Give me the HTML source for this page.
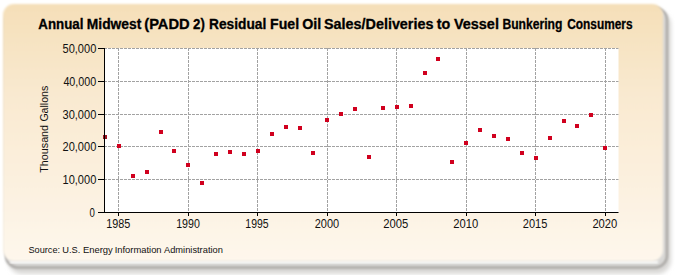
<!DOCTYPE html><html><head><meta charset="utf-8"><style>
html,body{margin:0;padding:0;background:#fff;width:675px;height:275px;overflow:hidden}
svg{display:block}
text{font-family:"Liberation Sans",sans-serif}
</style></head><body>
<svg width="675" height="275" viewBox="0 0 675 275">
<defs>
<linearGradient id="bg" x1="0" y1="0" x2="0" y2="1">
<stop offset="0" stop-color="#F5DFB8"/>
<stop offset="0.35" stop-color="#F9E9D0"/>
<stop offset="1" stop-color="#FEF7EC"/>
</linearGradient>
<filter id="blur" x="-10%" y="-10%" width="120%" height="120%"><feGaussianBlur stdDeviation="2.2"/></filter>
<filter id="blur1" x="-10%" y="-10%" width="120%" height="120%"><feGaussianBlur stdDeviation="1.3"/></filter>
<filter id="blur2" x="-10%" y="-10%" width="120%" height="120%"><feGaussianBlur stdDeviation="0.9"/></filter>
</defs>
<rect x="8" y="11" width="663" height="263" rx="14" fill="#d9d8d6" filter="url(#blur)"/>
<rect x="6" y="8" width="661" height="259.5" rx="12" fill="none" stroke="#aaa8a5" stroke-width="2.5" filter="url(#blur1)"/>
<rect x="10" y="261" width="648" height="2.2" fill="#fff" filter="url(#blur2)"/>
<rect x="3" y="4" width="660" height="257" rx="11" fill="url(#bg)" filter="url(#blur2)"/>

<rect x="104" y="48" width="514.5" height="164" fill="#fff"/>
<line x1="104" y1="48.5" x2="618.5" y2="48.5" stroke="#a2a2a2" stroke-width="1" stroke-dasharray="3,1"/>
<line x1="104" y1="81.5" x2="618.5" y2="81.5" stroke="#a2a2a2" stroke-width="1" stroke-dasharray="3,1"/>
<line x1="104" y1="114.5" x2="618.5" y2="114.5" stroke="#a2a2a2" stroke-width="1" stroke-dasharray="3,1"/>
<line x1="104" y1="146.5" x2="618.5" y2="146.5" stroke="#a2a2a2" stroke-width="1" stroke-dasharray="3,1"/>
<line x1="104" y1="179.5" x2="618.5" y2="179.5" stroke="#a2a2a2" stroke-width="1" stroke-dasharray="3,1"/>
<line x1="118.5" y1="48" x2="118.5" y2="212" stroke="#a2a2a2" stroke-width="1" stroke-dasharray="3,1"/>
<line x1="188.5" y1="48" x2="188.5" y2="212" stroke="#a2a2a2" stroke-width="1" stroke-dasharray="3,1"/>
<line x1="257.5" y1="48" x2="257.5" y2="212" stroke="#a2a2a2" stroke-width="1" stroke-dasharray="3,1"/>
<line x1="327.5" y1="48" x2="327.5" y2="212" stroke="#a2a2a2" stroke-width="1" stroke-dasharray="3,1"/>
<line x1="396.5" y1="48" x2="396.5" y2="212" stroke="#a2a2a2" stroke-width="1" stroke-dasharray="3,1"/>
<line x1="466.5" y1="48" x2="466.5" y2="212" stroke="#a2a2a2" stroke-width="1" stroke-dasharray="3,1"/>
<line x1="535.5" y1="48" x2="535.5" y2="212" stroke="#a2a2a2" stroke-width="1" stroke-dasharray="3,1"/>
<line x1="605.5" y1="48" x2="605.5" y2="212" stroke="#a2a2a2" stroke-width="1" stroke-dasharray="3,1"/>
<rect x="103" y="135" width="4" height="4" fill="#9c1420"/>
<rect x="117" y="144" width="4" height="4" fill="#D0001E"/>
<rect x="131" y="174" width="4" height="4" fill="#D0001E"/>
<rect x="145" y="170" width="4" height="4" fill="#D0001E"/>
<rect x="159" y="130" width="4" height="4" fill="#D0001E"/>
<rect x="172" y="149" width="4" height="4" fill="#D0001E"/>
<rect x="186" y="163" width="4" height="4" fill="#D0001E"/>
<rect x="200" y="181" width="4" height="4" fill="#D0001E"/>
<rect x="214" y="152" width="4" height="4" fill="#D0001E"/>
<rect x="228" y="150" width="4" height="4" fill="#D0001E"/>
<rect x="242" y="152" width="4" height="4" fill="#D0001E"/>
<rect x="256" y="149" width="4" height="4" fill="#D0001E"/>
<rect x="270" y="132" width="4" height="4" fill="#D0001E"/>
<rect x="284" y="125" width="4" height="4" fill="#D0001E"/>
<rect x="298" y="126" width="4" height="4" fill="#D0001E"/>
<rect x="311" y="151" width="4" height="4" fill="#D0001E"/>
<rect x="325" y="118" width="4" height="4" fill="#D0001E"/>
<rect x="339" y="112" width="4" height="4" fill="#D0001E"/>
<rect x="353" y="107" width="4" height="4" fill="#D0001E"/>
<rect x="367" y="155" width="4" height="4" fill="#D0001E"/>
<rect x="381" y="106" width="4" height="4" fill="#D0001E"/>
<rect x="395" y="105" width="4" height="4" fill="#D0001E"/>
<rect x="409" y="104" width="4" height="4" fill="#D0001E"/>
<rect x="423" y="71" width="4" height="4" fill="#D0001E"/>
<rect x="436" y="57" width="4" height="4" fill="#D0001E"/>
<rect x="450" y="160" width="4" height="4" fill="#D0001E"/>
<rect x="464" y="141" width="4" height="4" fill="#D0001E"/>
<rect x="478" y="128" width="4" height="4" fill="#D0001E"/>
<rect x="492" y="134" width="4" height="4" fill="#D0001E"/>
<rect x="506" y="137" width="4" height="4" fill="#D0001E"/>
<rect x="520" y="151" width="4" height="4" fill="#D0001E"/>
<rect x="534" y="156" width="4" height="4" fill="#D0001E"/>
<rect x="548" y="136" width="4" height="4" fill="#D0001E"/>
<rect x="562" y="119" width="4" height="4" fill="#D0001E"/>
<rect x="575" y="124" width="4" height="4" fill="#D0001E"/>
<rect x="589" y="113" width="4" height="4" fill="#D0001E"/>
<rect x="603" y="146" width="4" height="4" fill="#D0001E"/>
<line x1="104.5" y1="48" x2="104.5" y2="213" stroke="#000" stroke-width="1"/>
<line x1="104" y1="212.5" x2="618.5" y2="212.5" stroke="#000" stroke-width="1"/>
<line x1="98" y1="48.5" x2="104" y2="48.5" stroke="#000" stroke-width="1"/>
<line x1="98" y1="81.5" x2="104" y2="81.5" stroke="#000" stroke-width="1"/>
<line x1="98" y1="114.5" x2="104" y2="114.5" stroke="#000" stroke-width="1"/>
<line x1="98" y1="146.5" x2="104" y2="146.5" stroke="#000" stroke-width="1"/>
<line x1="98" y1="179.5" x2="104" y2="179.5" stroke="#000" stroke-width="1"/>
<line x1="98" y1="212.5" x2="104" y2="212.5" stroke="#000" stroke-width="1"/>
<line x1="118.5" y1="213" x2="118.5" y2="216" stroke="#000" stroke-width="1"/>
<line x1="188.5" y1="213" x2="188.5" y2="216" stroke="#000" stroke-width="1"/>
<line x1="257.5" y1="213" x2="257.5" y2="216" stroke="#000" stroke-width="1"/>
<line x1="327.5" y1="213" x2="327.5" y2="216" stroke="#000" stroke-width="1"/>
<line x1="396.5" y1="213" x2="396.5" y2="216" stroke="#000" stroke-width="1"/>
<line x1="466.5" y1="213" x2="466.5" y2="216" stroke="#000" stroke-width="1"/>
<line x1="535.5" y1="213" x2="535.5" y2="216" stroke="#000" stroke-width="1"/>
<line x1="605.5" y1="213" x2="605.5" y2="216" stroke="#000" stroke-width="1"/>
<text x="62.52" y="52.5" font-size="12.5" fill="#111" textLength="33.79" lengthAdjust="spacingAndGlyphs">50,000</text>
<text x="63.4" y="85.5" font-size="12.5" fill="#111" textLength="32.9" lengthAdjust="spacingAndGlyphs">40,000</text>
<text x="62.52" y="118.5" font-size="12.5" fill="#111" textLength="33.79" lengthAdjust="spacingAndGlyphs">30,000</text>
<text x="62.52" y="150.5" font-size="12.5" fill="#111" textLength="33.79" lengthAdjust="spacingAndGlyphs">20,000</text>
<text x="62.52" y="183.5" font-size="12.5" fill="#111" textLength="33.79" lengthAdjust="spacingAndGlyphs">10,000</text>
<text x="89.4" y="216.5" font-size="12.5" fill="#111" textLength="5.36" lengthAdjust="spacingAndGlyphs">0</text>
<text x="106.22" y="227.8" font-size="12.3" fill="#111" textLength="24.1" lengthAdjust="spacingAndGlyphs">1985</text>
<text x="176.13" y="227.8" font-size="12.3" fill="#111" textLength="23.68" lengthAdjust="spacingAndGlyphs">1990</text>
<text x="245.35" y="227.8" font-size="12.3" fill="#111" textLength="23.26" lengthAdjust="spacingAndGlyphs">1995</text>
<text x="314.71" y="227.8" font-size="12.3" fill="#111" textLength="24.41" lengthAdjust="spacingAndGlyphs">2000</text>
<text x="383.18" y="227.8" font-size="12.3" fill="#111" textLength="25.04" lengthAdjust="spacingAndGlyphs">2005</text>
<text x="453.19" y="227.8" font-size="12.3" fill="#111" textLength="24.94" lengthAdjust="spacingAndGlyphs">2010</text>
<text x="522.8" y="227.8" font-size="12.3" fill="#111" textLength="24.52" lengthAdjust="spacingAndGlyphs">2015</text>
<text x="592.39" y="227.8" font-size="12.3" fill="#111" textLength="24.94" lengthAdjust="spacingAndGlyphs">2020</text>
<text x="38.3" y="28.6" font-size="14" font-weight="bold" fill="#000" stroke="#000" stroke-width="0.3" textLength="45.13" lengthAdjust="spacingAndGlyphs">Annual</text>
<text x="86.81" y="28.6" font-size="14" font-weight="bold" fill="#000" stroke="#000" stroke-width="0.3" textLength="54.52" lengthAdjust="spacingAndGlyphs">Midwest</text>
<text x="144.25" y="28.6" font-size="14" font-weight="bold" fill="#000" stroke="#000" stroke-width="0.3" textLength="45.46" lengthAdjust="spacingAndGlyphs">(PADD</text>
<text x="193.1" y="28.6" font-size="14" font-weight="bold" fill="#000" stroke="#000" stroke-width="0.3" textLength="11.73" lengthAdjust="spacingAndGlyphs">2)</text>
<text x="209.02" y="28.6" font-size="14" font-weight="bold" fill="#000" stroke="#000" stroke-width="0.3" textLength="57.23" lengthAdjust="spacingAndGlyphs">Residual</text>
<text x="270.09" y="28.6" font-size="14" font-weight="bold" fill="#000" stroke="#000" stroke-width="0.3" textLength="28.99" lengthAdjust="spacingAndGlyphs">Fuel</text>
<text x="302.28" y="28.6" font-size="14" font-weight="bold" fill="#000" stroke="#000" stroke-width="0.3" textLength="19.0" lengthAdjust="spacingAndGlyphs">Oil</text>
<text x="323.97" y="28.6" font-size="14" font-weight="bold" fill="#000" stroke="#000" stroke-width="0.3" textLength="109.48" lengthAdjust="spacingAndGlyphs">Sales/Deliveries</text>
<text x="436.7" y="28.6" font-size="14" font-weight="bold" fill="#000" stroke="#000" stroke-width="0.3" textLength="13.52" lengthAdjust="spacingAndGlyphs">to</text>
<text x="453.9" y="28.6" font-size="14" font-weight="bold" fill="#000" stroke="#000" stroke-width="0.3" textLength="45.03" lengthAdjust="spacingAndGlyphs">Vessel</text>
<text x="502.43" y="28.6" font-size="14" font-weight="bold" fill="#000" stroke="#000" stroke-width="0.3" textLength="59.97" lengthAdjust="spacingAndGlyphs">Bunkering</text>
<text x="567.25" y="28.6" font-size="14" font-weight="bold" fill="#000" stroke="#000" stroke-width="0.3" textLength="65.27" lengthAdjust="spacingAndGlyphs">Consumers</text>
<text transform="translate(47.6,172.7) rotate(-90)" x="0.0" y="0" font-size="11.5" fill="#111" textLength="47.75" lengthAdjust="spacingAndGlyphs">Thousand</text>
<text transform="translate(47.6,172.7) rotate(-90)" x="51.08" y="0" font-size="11.5" fill="#111" textLength="35.82" lengthAdjust="spacingAndGlyphs">Gallons</text>
<text x="28.46" y="252.8" font-size="9.8" fill="#111" textLength="31.66" lengthAdjust="spacingAndGlyphs">Source:</text>
<text x="62.35" y="252.8" font-size="9.8" fill="#111" textLength="18.05" lengthAdjust="spacingAndGlyphs">U.S.</text>
<text x="82.94" y="252.8" font-size="9.8" fill="#111" textLength="29.91" lengthAdjust="spacingAndGlyphs">Energy</text>
<text x="114.64" y="252.8" font-size="9.8" fill="#111" textLength="46.97" lengthAdjust="spacingAndGlyphs">Information</text>
<text x="164.0" y="252.8" font-size="9.8" fill="#111" textLength="58.87" lengthAdjust="spacingAndGlyphs">Administration</text>
</svg></body></html>
